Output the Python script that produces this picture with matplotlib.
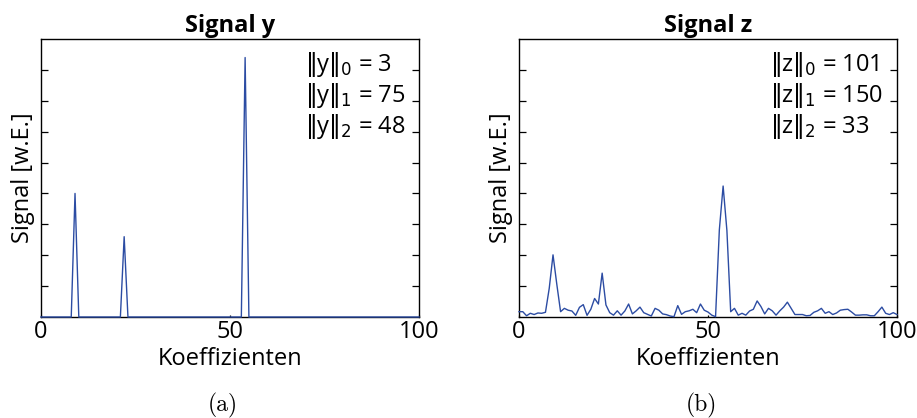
import matplotlib
matplotlib.use("Agg")
import matplotlib.pyplot as plt
import numpy as np

plt.rcParams['font.family'] = ['Open Sans', 'DejaVu Sans']
plt.rcParams['mathtext.fontset'] = 'dejavusans'

# ---- data ----
x = np.arange(0, 101)
y_idx = [9, 22, 54]
y_val = [20, 13, 42]
y = np.zeros(101)
y[y_idx] = y_val

z = [0.86, 0.86, 0.2, 0.6, 0.4, 0.65, 0.6, 0.76, 4.65, 10.06,
     5.3, 0.86, 1.4, 1.1, 0.97, 0.27, 1.57, 2.0, 0.27, 1.25,
     3.0, 2.1, 7.1, 1.95, 0.7, 0.3, 1.0, 0.3, 0.97, 2.1,
     0.5, 1.0, 1.6, 0.7, 0.43, 0.16, 1.4, 1.1, 0.5, 0.38,
     0.16, 0.05, 1.84, 0.43, 0.86, 1.0, 1.25, 0.7, 2.1, 1.1,
     0.8, 0.3, 0.05, 14.1, 21.2, 14.0, 0.86, 1.4, 0.3, 0.6,
     0.3, 0.97, 1.25, 2.6, 1.7, 0.5, 1.4, 1.0, 0.3, 1.0,
     1.6, 2.4, 1.4, 0.4, 0.4, 0.4, 0.2, 0.25, 0.76, 1.0,
     1.4, 0.6, 0.86, 0.4, 0.65, 1.1, 1.2, 1.25, 0.8, 0.3,
     0.3, 0.35, 0.35, 0.2, 0.2, 0.86, 1.6, 0.6, 0.4, 0.7, 0.4]

titles = ['Signal y', 'Signal z']
norm_texts = [
    [r'$\Vert$y$\Vert_\mathrm{0}$ = 3', r'$\Vert$y$\Vert_\mathrm{1}$ = 75', r'$\Vert$y$\Vert_\mathrm{2}$ = 48'],
    [r'$\Vert$z$\Vert_\mathrm{0}$ = 101', r'$\Vert$z$\Vert_\mathrm{1}$ = 150', r'$\Vert$z$\Vert_\mathrm{2}$ = 33'],
]
captions = ['(a)', '(b)']
xticks = [0, 50, 100]
yticks = [5, 10, 15, 20, 25, 30, 35, 40]

W, H = 917, 418
fig = plt.figure(figsize=(W / 100, H / 100), dpi=100)

color = '#2c4ca3'
lefts = [41, 519]
text_x = [0.698, 0.663]
text_y = [0.886, 0.775, 0.662]
series = [y, z]
FS = 17
for k in range(2):
    ax = fig.add_axes([lefts[k] / W, (H - 317) / H, 378 / W, 278 / H])
    ax.plot(x, series[k], color=color, lw=1.0, zorder=5, clip_on=False)
    ax.set_xlim(0, 100)
    ax.set_ylim(0, 45)
    ax.set_xticks(xticks)
    ax.set_xticklabels([str(t) for t in xticks], fontsize=FS)
    ax.set_yticks(yticks)
    ax.set_yticklabels([])
    ax.tick_params(axis='y', which='both', direction='in', left=True, right=True, length=5, width=0.9)
    ax.tick_params(axis='x', direction='in', length=1.5, width=0.9, pad=2)
    for s in ax.spines.values():
        s.set_linewidth(1.0)
    ax.set_title(titles[k], fontsize=FS, fontweight='bold', pad=5)
    ax.set_xlabel('Koeffizienten', fontsize=FS, labelpad=2)
    ax.set_ylabel('Signal [w.E.]', fontsize=FS, labelpad=1)
    for j, t in enumerate(norm_texts[k]):
        ax.text(text_x[k], text_y[j], t, transform=ax.transAxes,
                fontsize=FS, ha='left', va='baseline')
    cx = (lefts[k] + 189) / W
    fig.text(cx - 7 / W, 1 - 405 / H, captions[k], fontsize=17, family='cmr10',
             ha='center', va='center')

fig.savefig('out.png', dpi=100)
